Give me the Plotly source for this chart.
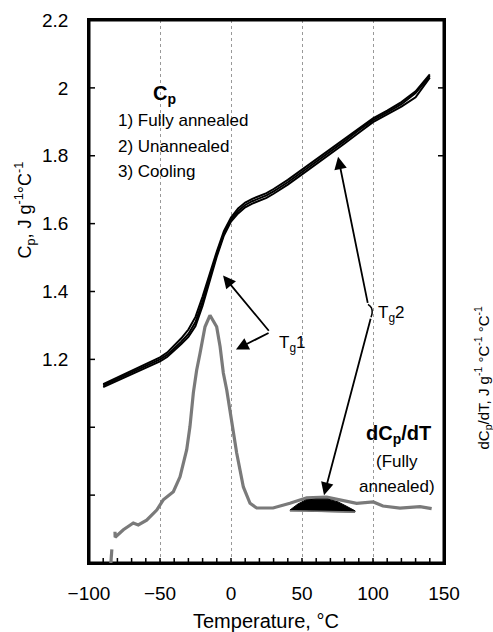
import plotly.graph_objects as go

# ---------------- data ----------------
cp_T = [-90, -80, -70, -60, -50, -45, -40, -35, -30, -25, -20, -15, -10, -5, 0, 5, 10, 15,
        20, 25, 30, 40, 50, 60, 70, 80, 90, 100, 110, 120, 130, 140]
cp_fully_annealed = [1.123, 1.142, 1.160, 1.180, 1.200, 1.213, 1.232, 1.252, 1.275, 1.310, 1.370,
                     1.440, 1.510, 1.570, 1.612, 1.637, 1.655, 1.666, 1.674, 1.683, 1.695, 1.722,
                     1.752, 1.782, 1.812, 1.843, 1.875, 1.905, 1.928, 1.952, 1.985, 2.035]
cp_unannealed = [1.127, 1.147, 1.166, 1.186, 1.206, 1.220, 1.240, 1.262, 1.288, 1.325, 1.385,
                 1.452, 1.518, 1.578, 1.618, 1.645, 1.662, 1.673, 1.681, 1.690, 1.702, 1.729,
                 1.759, 1.789, 1.819, 1.850, 1.881, 1.910, 1.933, 1.958, 1.990, 2.040]
cp_cooling = [1.118, 1.137, 1.155, 1.174, 1.194, 1.207, 1.225, 1.245, 1.266, 1.298, 1.358,
              1.430, 1.503, 1.565, 1.606, 1.630, 1.648, 1.659, 1.667, 1.676, 1.688, 1.715,
              1.745, 1.775, 1.805, 1.836, 1.868, 1.899, 1.922, 1.945, 1.972, 2.030]

dcp_T = [-84.6, -83.9, None, -81.7, -81.6, -75.8, -68.8, -65.3, -59.4, -52.3, -47.7, -40.6,
         -35.9, -31.2, -28.9, -26.5, -24.2, -21.8, -18.3, -14.8, -10.1, -7.7, -5.4, -3.0,
         0.5, 4.0, 8.7, 13.4, 18.1, 29.6, 41.5, 53.3, 67.4, 76.8, 88.5, 100.2, 107.0, 119.0,
         133.1, 141.3]
dcp_fully_annealed = [0.0, 0.0020, None, 0.0046, 0.0038, 0.0049, 0.0059, 0.0056, 0.0063,
                      0.0078, 0.0093, 0.0105, 0.0127, 0.0167, 0.0201, 0.0251, 0.0284, 0.0309,
                      0.0348, 0.0365, 0.0348, 0.0319, 0.0280, 0.0255, 0.0211, 0.0162, 0.0112,
                      0.0088, 0.0081, 0.0081, 0.0088, 0.0096, 0.0097, 0.0093, 0.0088, 0.0090,
                      0.0084, 0.0081, 0.0083, 0.0080]

peak_T = [41.5, 47.2, 52.8, 59.9, 68.3, 75.4, 81.0, 87.3]
peak_top = [0.0078, 0.0087, 0.0093, 0.0094, 0.0094, 0.0090, 0.0084, 0.0077]
peak_base = [0.0077, 0.0077, 0.0077, 0.0076, 0.0076, 0.0076, 0.0075, 0.0075]

x_ticks = [-100, -50, 0, 50, 100, 150]
x_minor_ticks = [-90, -80, -70, -60, -50, -40, -30, -20, -10, 0, 10, 20, 30, 40, 50, 60, 70,
                 80, 90, 100, 110, 120, 130, 140]
y_ticks = [0.8, 1.0, 1.2, 1.4, 1.6, 1.8, 2.0, 2.2]
y_ticktext = ["", "", "1.2", "1.4", "1.6", "1.8", "2", "2.2"]
y2_ticks = [0.06, 0.07]

# Tg annotation geometry (tail -> head) in (T, Cp) coordinates
tg_arrows = [
    ((27.5, 1.280), (-5.6, 1.447)),
    ((27.5, 1.280), (3.5, 1.229)),
    ((96.5, 1.362), (75.4, 1.797)),
    ((98.6, 1.324), (65.5, 0.800)),
]
tg2_bracket_T = [96.5, 98.9, 99.4, 98.6]
tg2_bracket_cp = [1.362, 1.352, 1.337, 1.324]

# ---------------- geometry helpers ----------------
W, H = 493, 632
L, R, T, B = 89, 444, 20, 563
X_RANGE = [-100, 150]
Y_RANGE = [0.6, 2.2]
Y2_RANGE = [0, 0.08]
X_PER_PX = (X_RANGE[1] - X_RANGE[0]) / (R - L)
Y_PER_PX = (Y_RANGE[1] - Y_RANGE[0]) / (B - T)
TICK_PX = 5


def px(x):
    return (x - L) / (R - L)


def py(y):
    return (B - y) / (B - T)


FONT = "Arial, Liberation Sans, Helvetica, sans-serif"
CLEAR = "rgba(0,0,0,0)"

fig = go.Figure()

fig.add_trace(go.Scatter(x=dcp_T, y=dcp_fully_annealed, yaxis="y2", mode="lines",
                         line=dict(color="#7a7a7a", width=3.2), showlegend=False,
                         connectgaps=False))
poly_x = peak_T + peak_T[::-1]
poly_y = peak_top + peak_base[::-1]
fig.add_trace(go.Scatter(x=poly_x, y=poly_y, yaxis="y2", mode="lines", fill="toself",
                         fillcolor="black", line=dict(color="black", width=1),
                         showlegend=False))
fig.add_trace(go.Scatter(x=[peak_T[0], peak_T[-1]], y=[peak_base[0], peak_base[-1]],
                         yaxis="y2", mode="lines", line=dict(color="#777", width=1.5),
                         showlegend=False))

for ys in (cp_cooling, cp_unannealed, cp_fully_annealed):
    fig.add_trace(go.Scatter(x=cp_T, y=ys, mode="lines",
                             line=dict(color="black", width=2), showlegend=False))

# Tg2 bracket
fig.add_trace(go.Scatter(x=tg2_bracket_T, y=tg2_bracket_cp, mode="lines",
                         line=dict(color="black", width=1.5, shape="spline"),
                         hoverinfo="skip", showlegend=False))

# plot frame along the axis ranges
fig.add_trace(go.Scatter(x=[X_RANGE[0], X_RANGE[1], X_RANGE[1], X_RANGE[0], X_RANGE[0]],
                         y=[Y_RANGE[0], Y_RANGE[0], Y_RANGE[1], Y_RANGE[1], Y_RANGE[0]],
                         mode="lines", line=dict(color="black", width=3),
                         hoverinfo="skip", showlegend=False))

# inward tick marks
tx, ty = [], []
for v in x_minor_ticks:
    tx += [v, v, None]
    ty += [Y_RANGE[0], Y_RANGE[0] + TICK_PX * Y_PER_PX, None]
for v in y_ticks[:-1]:
    tx += [X_RANGE[0], X_RANGE[0] + (TICK_PX + 1) * X_PER_PX, None]
    ty += [v, v, None]
fig.add_trace(go.Scatter(x=tx, y=ty, mode="lines", line=dict(color="black", width=1.5),
                         hoverinfo="skip", showlegend=False, connectgaps=False))
t2x, t2y = [], []
for v in y2_ticks:
    t2x += [X_RANGE[1], X_RANGE[1] - (TICK_PX + 1) * X_PER_PX, None]
    t2y += [v, v, None]
fig.add_trace(go.Scatter(x=t2x, y=t2y, yaxis="y2", mode="lines",
                         line=dict(color="black", width=1.5), hoverinfo="skip",
                         showlegend=False, connectgaps=False))

annotations = []


def text(x, y, s, size=17, xanchor="center"):
    annotations.append(dict(x=px(x), y=py(y), xref="paper", yref="paper", text=s,
                            showarrow=False, xanchor=xanchor, yanchor="middle",
                            font=dict(family=FONT, size=size, color="black")))


text(164, 95, "<b>C<sub>p</sub></b>", size=20)
text(116, 121, "1) Fully annealed", xanchor="left")
text(116, 147, "2) Unannealed", xanchor="left")
text(116, 172, "3) Cooling", xanchor="left")
text(277, 344, "T<sub>g</sub>1", xanchor="left")
text(376, 314, "T<sub>g</sub>2", xanchor="left")
text(398, 435, "<b>dC<sub>p</sub>/dT</b>", size=20)
text(397, 461, "(Fully")
text(397, 486, "annealed)")
text(266, 621, "Temperature, °C", size=20)

annotations.append(dict(x=px(10), y=py(210), xref="paper", yref="paper",
                        text="C<sub>p</sub>, J g<sup>-1</sup>°C<sup>-1</sup>", textangle=-90,
                        showarrow=False, xanchor="left",
                        font=dict(family=FONT, size=18, color="black")))
annotations.append(dict(x=px(495), y=py(452), xref="paper", yref="paper",
                        text="dC<sub>p</sub>/dT, J g<sup>-1</sup> °C<sup>-1</sup> °C<sup>-1</sup>",
                        textangle=-90, showarrow=False, xanchor="right",
                        font=dict(family=FONT, size=15, color="black")))

for (ax_, ay_), (hx, hy) in tg_arrows:
    annotations.append(dict(x=hx, y=hy, ax=ax_, ay=ay_, xref="x", yref="y", axref="x",
                            ayref="y", text="", showarrow=True, arrowhead=2,
                            arrowsize=1.4, arrowwidth=1.8, arrowcolor="black"))

fig.update_layout(
    width=W, height=H,
    margin=dict(l=L, r=W - R, t=T, b=H - B, autoexpand=False),
    paper_bgcolor="white", plot_bgcolor="white",
    font=dict(family=FONT, size=19, color="black"),
    showlegend=False,
    annotations=annotations,
    xaxis=dict(range=X_RANGE, tickvals=x_ticks, ticks="outside", ticklen=12,
               tickcolor=CLEAR, showline=True, linecolor="black", linewidth=1.5,
               mirror=True, showgrid=True, gridcolor="#999",
               griddash="dot", gridwidth=1, zeroline=False, tickfont=dict(size=19),
               automargin=False),
    yaxis=dict(range=Y_RANGE, tickvals=y_ticks, ticktext=y_ticktext, ticks="outside",
               ticklen=15, tickcolor=CLEAR, showline=True, linecolor="black",
               linewidth=1.5, mirror=True, showgrid=False,
               zeroline=False, tickfont=dict(size=19), automargin=False),
    yaxis2=dict(range=Y2_RANGE, overlaying="y", side="right", showticklabels=False,
                ticks="", showline=False, showgrid=False, zeroline=False),
)

fig.write_html("out.html", config={"displayModeBar": False},
               post_script="document.body.style.margin='0';")
